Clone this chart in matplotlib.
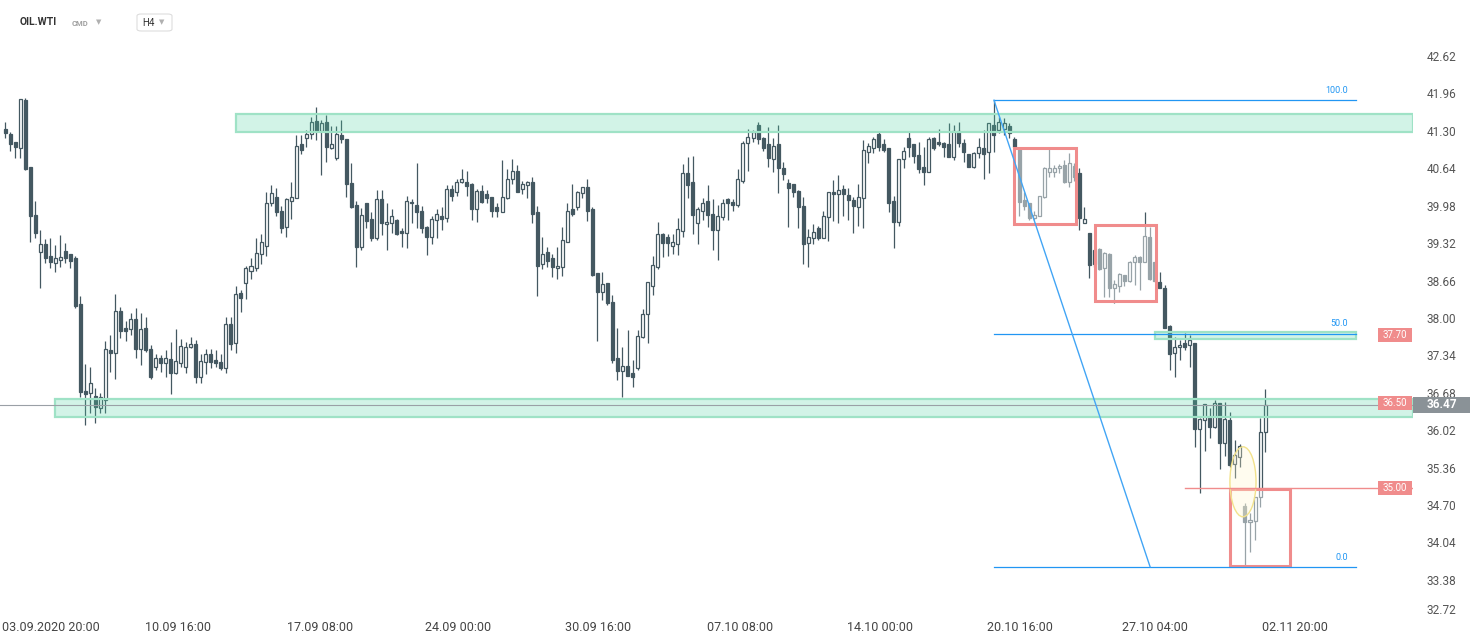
import matplotlib
matplotlib.use('Agg')
import matplotlib.pyplot as plt
from matplotlib.patches import Rectangle, Ellipse, FancyBboxPatch
import numpy as np

plt.rcParams['font.family'] = ['Roboto', 'DejaVu Sans']

# H4 candles, OIL.WTI
opens = [
    41.33, 41.24, 41.10, 41.00, 41.85, 40.66, 39.82, 39.16, 39.30, 39.10,
    38.97, 39.03, 39.18, 39.12, 39.06, 38.25, 36.72, 36.68, 36.62, 36.41,
    36.55, 37.43, 37.38, 38.12, 37.82, 37.81, 37.99, 37.45, 37.83, 37.45,
    37.13, 37.29, 37.20, 37.27, 37.03, 37.20, 37.13, 37.49, 37.54, 36.95,
    37.22, 37.36, 37.25, 37.23, 37.11, 37.90, 37.56, 38.44, 38.62, 38.83,
    38.88, 39.12, 39.27, 40.02, 40.13, 39.89, 39.61, 40.07, 40.11, 41.07,
    41.17, 41.24, 41.47, 41.29, 41.45, 41.00, 40.82, 41.22, 41.15, 40.38,
    40.00, 39.25, 40.02, 39.75, 39.41, 40.09, 39.66, 39.68, 39.73, 39.54,
    39.50, 40.05, 40.00, 39.89, 39.61, 39.43, 39.73, 39.80, 39.77, 40.27,
    40.22, 40.40, 40.40, 40.36, 39.93, 40.24, 40.18, 40.13, 39.95, 39.87,
    40.11, 40.45, 40.59, 40.27, 40.34, 40.40, 39.86, 38.96, 39.16, 39.05,
    38.88, 38.90, 39.34, 39.93, 39.96, 40.20, 40.31, 39.93, 38.80, 38.46,
    38.62, 38.28, 37.29, 37.07, 37.15, 37.03, 37.11, 37.67, 38.07, 38.56,
    38.89, 39.48, 39.43, 39.27, 39.30, 39.53, 40.56, 40.40, 39.68, 39.89,
    40.07, 39.84, 39.55, 39.78, 40.09, 40.05, 40.00, 40.42, 41.09, 41.17,
    41.40, 41.17, 41.06, 40.81, 41.06, 40.65, 40.38, 40.36, 40.24, 39.98,
    39.32, 39.41, 39.59, 39.41, 39.78, 40.22, 40.18, 40.27, 40.16, 40.08,
    39.96, 40.11, 40.93, 41.00, 41.24, 41.06, 41.00, 40.07, 39.69, 40.81,
    41.17, 41.06, 40.88, 40.66, 40.58, 41.17, 41.10, 41.09, 41.06, 40.84,
    41.29, 41.09, 40.90, 40.66, 40.91, 40.99, 40.93, 41.40, 41.31, 41.33,
    41.38, 41.15, 41.00, 40.08, 40.03, 39.77, 39.80, 40.13, 40.58, 40.58,
    40.65, 40.70, 40.40, 40.68, 40.56, 39.68, 39.50, 38.96, 39.21, 38.88,
    39.12, 38.53, 38.56, 38.76, 38.65, 38.98, 39.08, 38.98, 39.43, 38.98,
    38.63, 38.53, 37.86, 37.38, 37.49, 37.56, 37.52, 37.56, 36.04, 36.20,
    36.23, 36.07, 36.50, 35.80, 36.20, 35.43, 35.55, 34.69, 34.40, 34.42,
    34.85, 35.98,
]
highs = [
    41.45, 41.28, 41.10, 41.86, 41.88, 40.66, 40.07, 39.55, 39.39, 39.41,
    39.28, 39.46, 39.32, 39.12, 39.10, 38.39, 37.19, 37.13, 36.77, 36.68,
    37.59, 37.70, 38.42, 38.19, 37.95, 38.08, 38.17, 38.08, 38.02, 37.52,
    37.36, 37.34, 37.43, 37.58, 37.81, 37.63, 37.58, 37.67, 37.61, 37.36,
    37.45, 37.45, 37.43, 37.36, 38.01, 38.01, 38.56, 38.49, 38.92, 39.05,
    39.41, 39.48, 40.22, 40.34, 40.29, 39.98, 40.11, 40.40, 41.22, 41.22,
    41.31, 41.54, 41.72, 41.49, 41.58, 41.38, 41.38, 41.49, 41.15, 40.74,
    40.07, 39.94, 40.02, 39.86, 40.25, 40.25, 40.03, 39.93, 39.75, 39.59,
    40.15, 40.10, 40.74, 39.98, 39.63, 39.79, 39.93, 39.95, 40.34, 40.34,
    40.45, 40.63, 40.59, 40.38, 40.27, 40.34, 40.25, 40.13, 40.03, 40.79,
    40.63, 40.81, 40.70, 40.42, 40.42, 40.49, 39.98, 39.43, 39.25, 39.12,
    39.25, 39.60, 40.03, 40.36, 40.24, 40.31, 40.45, 39.96, 38.80, 38.81,
    38.62, 38.40, 37.83, 37.49, 37.79, 37.26, 37.79, 38.16, 38.64, 39.09,
    39.70, 39.50, 39.48, 39.48, 39.77, 40.72, 40.83, 40.86, 39.95, 40.11,
    40.34, 40.10, 40.00, 40.09, 40.11, 40.09, 40.63, 41.12, 41.33, 41.31,
    41.45, 41.19, 41.37, 41.17, 41.40, 40.75, 40.45, 40.36, 40.25, 40.13,
    39.57, 39.66, 39.63, 39.88, 40.22, 40.43, 40.52, 40.34, 40.29, 40.13,
    40.36, 41.13, 41.09, 41.19, 41.28, 41.15, 41.00, 40.15, 40.81, 41.02,
    41.29, 41.06, 41.10, 41.02, 41.19, 41.19, 41.33, 41.10, 41.44, 41.40,
    41.45, 41.15, 40.90, 40.93, 41.17, 41.31, 41.44, 41.84, 41.54, 41.53,
    41.44, 41.19, 41.00, 40.22, 40.03, 39.88, 40.15, 40.66, 41.02, 40.70,
    40.72, 40.79, 40.91, 40.74, 40.65, 39.96, 39.50, 39.20, 39.23, 39.16,
    39.14, 38.67, 38.80, 38.76, 39.00, 39.11, 39.10, 39.86, 39.61, 38.98,
    38.81, 38.58, 37.88, 37.67, 37.61, 37.74, 37.70, 37.56, 36.24, 36.48,
    36.41, 36.55, 36.50, 36.52, 36.34, 35.85, 35.78, 34.74, 34.56, 34.85,
    36.23, 36.75,
]
lows = [
    41.17, 40.95, 40.82, 40.82, 40.61, 39.34, 39.41, 38.53, 38.97, 38.88,
    38.81, 38.90, 38.97, 38.88, 38.17, 36.61, 36.11, 36.32, 36.15, 36.32,
    36.32, 37.04, 36.92, 37.65, 37.59, 37.70, 37.29, 37.17, 37.40, 36.93,
    37.08, 37.05, 36.95, 36.66, 37.01, 37.13, 37.03, 37.47, 36.86, 36.86,
    37.02, 37.11, 37.13, 37.08, 37.03, 37.43, 37.38, 38.10, 38.33, 38.69,
    38.83, 38.96, 39.09, 39.98, 39.80, 39.50, 39.43, 39.75, 40.11, 40.90,
    41.02, 41.15, 41.13, 40.52, 40.75, 40.98, 40.79, 41.09, 40.13, 39.94,
    38.89, 39.20, 39.59, 39.36, 39.37, 39.46, 39.20, 39.50, 39.46, 39.25,
    39.23, 39.68, 39.59, 39.50, 39.11, 39.30, 39.41, 39.55, 39.70, 40.07,
    40.15, 40.38, 40.15, 39.73, 39.70, 40.03, 40.03, 39.78, 39.78, 39.86,
    40.09, 40.36, 40.22, 40.18, 40.11, 39.68, 38.39, 38.87, 38.90, 38.72,
    38.69, 38.74, 39.34, 39.80, 39.91, 40.11, 39.71, 38.74, 37.60, 38.31,
    38.23, 37.20, 36.91, 36.61, 36.98, 36.79, 37.08, 37.65, 37.56, 38.40,
    38.87, 39.07, 39.09, 39.13, 39.11, 39.43, 40.11, 39.48, 39.30, 39.73,
    39.61, 39.20, 39.03, 39.73, 39.73, 39.89, 39.96, 40.38, 40.59, 41.10,
    41.07, 40.95, 40.66, 40.57, 40.20, 40.43, 39.60, 40.13, 39.59, 38.96,
    38.90, 39.30, 39.37, 39.41, 39.36, 39.71, 39.68, 39.80, 39.73, 39.50,
    39.62, 39.59, 40.74, 40.91, 40.95, 40.93, 39.87, 39.23, 39.62, 40.65,
    40.84, 40.74, 40.56, 40.34, 40.58, 40.97, 41.04, 40.84, 40.84, 40.79,
    41.02, 40.75, 40.66, 40.64, 40.82, 40.45, 40.56, 40.93, 41.26, 41.22,
    41.17, 40.84, 39.79, 39.91, 39.73, 39.73, 39.79, 40.11, 40.49, 40.49,
    40.56, 40.38, 40.31, 40.42, 39.55, 39.68, 38.71, 38.89, 38.85, 38.37,
    38.37, 38.26, 38.46, 38.56, 38.64, 38.58, 38.49, 38.98, 38.67, 38.64,
    38.53, 37.83, 37.09, 36.96, 37.26, 37.43, 37.13, 35.73, 34.92, 35.66,
    35.89, 36.05, 35.34, 35.57, 35.37, 35.18, 35.37, 33.61, 33.88, 34.08,
    34.67, 35.64,
]
closes = [
    41.27, 41.07, 41.02, 41.86, 40.63, 39.79, 39.50, 39.30, 39.06, 38.99,
    39.06, 39.08, 39.05, 39.01, 38.21, 36.70, 36.66, 36.86, 36.43, 36.60,
    37.45, 37.38, 38.12, 37.77, 37.77, 37.99, 37.45, 37.81, 37.43, 36.96,
    37.29, 37.20, 37.29, 37.03, 37.24, 37.50, 37.49, 37.54, 36.95, 37.24,
    37.36, 37.22, 37.20, 37.11, 37.90, 37.54, 38.42, 38.35, 38.88, 38.92,
    39.14, 39.34, 40.02, 40.20, 39.87, 39.59, 40.10, 40.13, 41.04, 40.97,
    41.24, 41.46, 41.29, 41.44, 41.01, 41.06, 41.24, 41.15, 40.36, 39.96,
    39.25, 39.82, 39.71, 39.41, 40.09, 39.68, 39.68, 39.79, 39.48, 39.50,
    40.07, 40.02, 39.86, 39.59, 39.43, 39.75, 39.84, 39.75, 40.27, 40.15,
    40.40, 40.45, 40.33, 39.93, 40.24, 40.05, 40.11, 39.89, 39.89, 40.13,
    40.45, 40.59, 40.22, 40.36, 40.40, 39.84, 38.92, 39.12, 39.01, 38.90,
    38.92, 39.37, 39.89, 39.84, 40.22, 40.31, 39.89, 38.76, 38.46, 38.60,
    38.26, 37.26, 37.07, 37.15, 36.98, 36.96, 37.68, 38.07, 38.64, 38.94,
    39.48, 39.32, 39.32, 39.34, 39.57, 40.56, 40.34, 39.82, 39.93, 40.03,
    39.82, 39.55, 39.80, 40.03, 40.02, 40.00, 40.45, 41.09, 41.19, 41.28,
    41.15, 41.00, 40.82, 41.04, 40.65, 40.54, 40.29, 40.22, 39.96, 39.30,
    39.43, 39.52, 39.41, 39.80, 40.22, 40.18, 40.25, 40.18, 40.08, 39.98,
    40.13, 40.97, 41.04, 41.15, 41.02, 40.97, 40.03, 39.69, 40.81, 40.95,
    41.02, 40.86, 40.63, 40.57, 41.15, 40.99, 41.06, 41.02, 40.84, 41.29,
    41.09, 40.93, 40.66, 40.91, 41.02, 40.90, 41.44, 41.22, 41.45, 41.44,
    41.26, 41.02, 40.05, 39.98, 39.77, 39.82, 40.15, 40.65, 40.65, 40.65,
    40.68, 40.40, 40.74, 40.49, 39.77, 39.75, 38.94, 39.20, 38.87, 39.14,
    38.53, 38.60, 38.78, 38.65, 38.99, 39.08, 38.99, 39.45, 38.69, 38.65,
    38.53, 37.83, 37.36, 37.49, 37.52, 37.49, 37.61, 36.04, 36.22, 36.48,
    36.07, 36.50, 35.80, 36.22, 35.41, 35.59, 35.75, 34.40, 34.44, 34.85,
    35.98, 36.47,
]

price_ticks = [42.62, 41.96, 41.30, 40.64, 39.98, 39.32, 38.66, 38.00,
               37.34, 36.68, 36.02, 35.36, 34.70, 34.04, 33.38, 32.72]
date_labels = ['03.09.2020 20:00', '10.09 16:00', '17.09 08:00', '24.09 00:00',
               '30.09 16:00', '07.10 08:00', '14.10 00:00', '20.10 16:00',
               '27.10 04:00', '02.11 20:00']
date_pos = [9.2, 34.5, 62.7, 90.2, 118.1, 146.4, 174.3, 202.2, 229.1, 257.0]

# drawings on the chart
zones = [(46.0, None, 41.28, 41.60), (10.0, None, 36.25, 36.57), (229.1, 269.1, 37.63, 37.75)]
boxes = [(201.0, 213.3, 39.66, 41.00), (217.1, 229.3, 38.30, 39.64), (244.0, 256.0, 33.63, 34.98)]
fib_high = (197.0, 41.84)
fib_low = (228.1, 33.61)
fib_end = 269.1
level_labels = [37.70, 36.50, 35.00]
line_35_start = 235.1
last_price = 36.47

DARK = '#445861'
RED = '#f08c8c'
BLUE = '#2196f3'

fig = plt.figure(figsize=(14.82, 6.43), dpi=100)
ax = fig.add_axes([0, 0.03997, 0.95344, 0.8978])
x0, x1 = -1.0, 280.47
ax.set_xlim(x0, x1)
ax.set_ylim(32.72, 42.902)

o = np.array(opens)
h = np.array(highs)
l = np.array(lows)
c = np.array(closes)
idx = np.arange(len(o))
up = c >= o
bot = np.minimum(o, c)
hgt = np.maximum(np.abs(c - o), 0.03)

ax.vlines(idx, l, h, color=DARK, lw=0.9, zorder=2)
ax.bar(idx[up], hgt[up], bottom=bot[up], width=0.6, facecolor='white',
       edgecolor=DARK, lw=0.9, zorder=3)
ax.bar(idx[~up], hgt[~up], bottom=bot[~up], width=0.6, facecolor=DARK,
       edgecolor=DARK, lw=0.9, zorder=3)

# support / resistance zones
for xs, xe, lo, hi in zones:
    if xe is None:
        xe = x1
    ax.add_patch(Rectangle((xs, lo), xe - xs, hi - lo, facecolor=(0.31, 0.82, 0.63, 0.25),
                           edgecolor='#9fe2c6', lw=1.6, zorder=4))

# highlighted boxes (semi-transparent white fill greys out the candles)
for xs, xe, lo, hi in boxes:
    ax.add_patch(Rectangle((xs, lo), xe - xs, hi - lo, facecolor=(1, 1, 1, 0.45),
                           edgecolor=RED, lw=2.2, zorder=4))

ax.add_patch(Ellipse((246.6, 35.11), 5.2, 1.235, facecolor=(1.0, 0.97, 0.8, 0.3),
                     edgecolor='#f2e28c', lw=1.0, zorder=4))

# fibonacci
fib_levels = [(100.0, fib_high[1]), (50.0, (fib_high[1] + fib_low[1]) / 2), (0.0, fib_low[1])]
for name, val in fib_levels:
    ax.plot([fib_high[0], fib_end], [val, val], color=BLUE, lw=0.9, zorder=5)
    ax.text(fib_end - 1.6, val + 0.09, '%.1f' % name, color=BLUE, fontsize=6.5,
            ha='right', va='bottom', zorder=6)
ax.plot([fib_high[0], fib_low[0]], [fib_high[1], fib_low[1]], color='#42a5f5', lw=1.0, zorder=5)

# price lines
ax.axhline(last_price, color='#9aa0a6', lw=0.8, zorder=4.5)
ax.plot([line_35_start, x1], [35.0, 35.0], color=RED, lw=1.0, zorder=5)

ytr = ax.get_yaxis_transform()
for v in level_labels:
    ax.add_patch(Rectangle((0.9752, v - 0.125), 0.0241, 0.25, transform=ytr,
                           facecolor=RED, edgecolor='none', zorder=7, clip_on=False))
    ax.text(0.9872, v, '%.2f' % v, transform=ytr, color='white', fontsize=7,
            ha='center', va='center', zorder=8)
ax.add_patch(Rectangle((1.0, last_price - 0.14), 0.0403, 0.28, transform=ytr,
                       facecolor='#8a9297', edgecolor='none', zorder=7, clip_on=False))
ax.text(1.0202, last_price, '%.2f' % last_price, transform=ytr, color='white',
        fontsize=8.5, fontweight='bold', ha='center', va='center', zorder=8, clip_on=False)

# axes
for s in ax.spines.values():
    s.set_visible(False)
ax.yaxis.tick_right()
ax.set_yticks(price_ticks)
ax.set_yticklabels(['%.2f' % t for t in price_ticks])
ax.tick_params(axis='y', length=0, pad=10, labelsize=8.5, labelcolor='#555555')
ax.get_yticklabels()[-1].set_va('bottom')
ax.set_xticks(date_pos)
ax.set_xticklabels(date_labels)
ax.tick_params(axis='x', length=0, pad=3, labelsize=9, labelcolor='#444444')

# header
fig.text(20 / 1482, 1 - 22 / 643, 'OIL.WTI', fontsize=7.5, fontweight='bold',
         color='#333333', va='center')
fig.text(72 / 1482, 1 - 23 / 643, 'CMD', fontsize=5.5, fontweight='bold',
         color='#a0a0a0', va='center')
fig.text(96 / 1482, 1 - 22 / 643, '\u25bc', fontsize=5, color='#b0b0b0', va='center',
         family='DejaVu Sans')
fig.patches.append(FancyBboxPatch((137 / 1482, 1 - 31 / 643), 35 / 1482, 17 / 643,
                                  boxstyle='round,pad=0,rounding_size=0.003',
                                  transform=fig.transFigure, facecolor='white',
                                  edgecolor='#dddddd', lw=0.8))
fig.text(142 / 1482, 1 - 22.5 / 643, 'H4', fontsize=7, color='#333333', va='center')
fig.text(159 / 1482, 1 - 22 / 643, '\u25bc', fontsize=5, color='#b0b0b0', va='center',
         family='DejaVu Sans')

fig.savefig('out.png', dpi=100, facecolor='white')
